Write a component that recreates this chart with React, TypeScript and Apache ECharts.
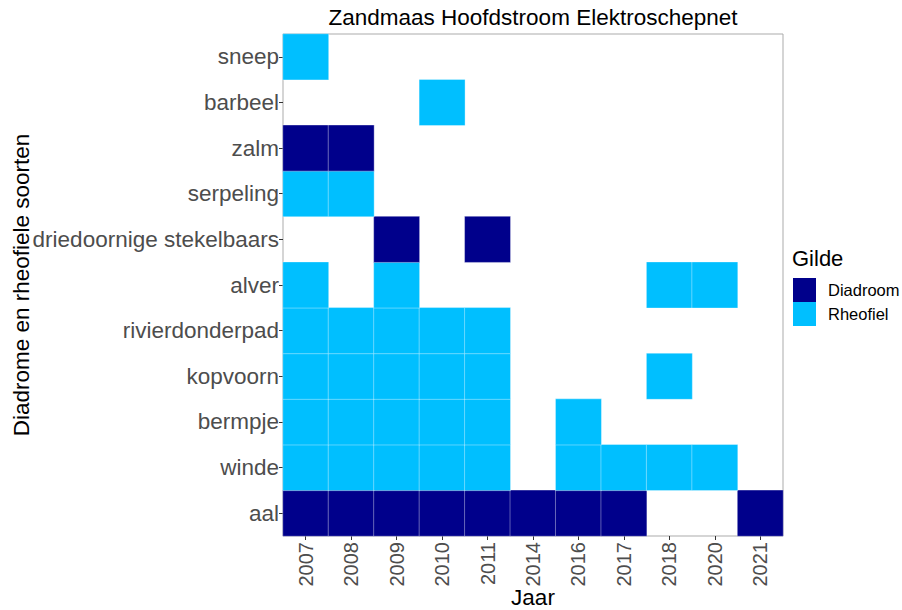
import React, { useEffect, useRef } from "react";
import * as echarts from "echarts";

const years = ["2007", "2008", "2009", "2010", "2011", "2014", "2016", "2017", "2018", "2020", "2021"];
// bottom to top
const species = [
  "aal",
  "winde",
  "bermpje",
  "kopvoorn",
  "rivierdonderpad",
  "alver",
  "driedoornige stekelbaars",
  "serpeling",
  "zalm",
  "barbeel",
  "sneep",
];
const guilds = ["Diadroom", "Rheofiel"];
const guildColors = ["#00008B", "#00BFFF"];

const speciesGuild: Record<string, string> = {
  aal: "Diadroom",
  winde: "Rheofiel",
  bermpje: "Rheofiel",
  kopvoorn: "Rheofiel",
  rivierdonderpad: "Rheofiel",
  alver: "Rheofiel",
  "driedoornige stekelbaars": "Diadroom",
  serpeling: "Rheofiel",
  zalm: "Diadroom",
  barbeel: "Rheofiel",
  sneep: "Rheofiel",
};

const presence: Record<string, string[]> = {
  aal: ["2007", "2008", "2009", "2010", "2011", "2014", "2016", "2017", "2021"],
  winde: ["2007", "2008", "2009", "2010", "2011", "2016", "2017", "2018", "2020"],
  bermpje: ["2007", "2008", "2009", "2010", "2011", "2016"],
  kopvoorn: ["2007", "2008", "2009", "2010", "2011", "2018"],
  rivierdonderpad: ["2007", "2008", "2009", "2010", "2011"],
  alver: ["2007", "2009", "2018", "2020"],
  "driedoornige stekelbaars": ["2009", "2011"],
  serpeling: ["2007", "2008"],
  zalm: ["2007", "2008"],
  barbeel: ["2010"],
  sneep: ["2007"],
};

const FONT = "'Liberation Sans', Arial, sans-serif";

export default function App() {
  const ref = useRef<HTMLDivElement>(null);
  useEffect(() => {
    if (!ref.current) return;
    document.body.style.margin = "0";
    document.documentElement.style.overflow = "hidden";
    document.body.style.overflow = "hidden";
    const chart = echarts.init(ref.current, undefined, { renderer: "svg" });
    const data: number[][] = [];
    species.forEach((sp, yi) => {
      presence[sp].forEach((yr) => {
        data.push([years.indexOf(yr), yi, guilds.indexOf(speciesGuild[sp])]);
      });
    });
    const gL = 283, gT = 34, gW = 500, gH = 502;
    chart.setOption({
      animation: false,
      backgroundColor: "#ffffff",
      textStyle: { fontFamily: FONT },
      title: {
        text: "Zandmaas Hoofdstroom Elektroschepnet",
        left: gL + gW / 2,
        textAlign: "center",
        top: 6,
        padding: 0,
        textStyle: { fontFamily: FONT, fontSize: 22.5, fontWeight: "normal", color: "#000000" },
      },
      grid: {
        left: gL,
        top: gT,
        width: gW,
        height: gH,
        show: true,
        borderColor: "#ABABAB",
        borderWidth: 1,
        backgroundColor: "#ffffff",
      },
      xAxis: {
        type: "category",
        data: years,
        axisLine: { show: false },
        axisTick: { show: true, length: 4, lineStyle: { color: "#333333" }, alignWithLabel: true },
        axisLabel: { rotate: 90, fontSize: 20, color: "#4D4D4D", margin: 6, fontFamily: FONT },
        splitLine: { show: false },
      },
      yAxis: {
        type: "category",
        data: species,
        axisLine: { show: false },
        axisTick: { show: true, length: 4, lineStyle: { color: "#333333" }, alignWithLabel: true },
        axisLabel: { fontSize: 22.5, color: "#4D4D4D", margin: 4, fontFamily: FONT },
        splitLine: { show: false },
      },
      visualMap: {
        show: false,
        type: "piecewise",
        dimension: 2,
        pieces: [
          { value: 0, color: guildColors[0] },
          { value: 1, color: guildColors[1] },
        ],
      },
      series: [
        {
          type: "heatmap",
          data,
          itemStyle: { borderColor: "rgba(255,255,255,0.35)", borderWidth: 1 },
          emphasis: { disabled: true },
        },
      ],
      graphic: [
        {
          type: "text",
          x: 21,
          y: gT + gH / 2,
          rotation: Math.PI / 2,
          style: {
            text: "Diadrome en rheofiele soorten",
            fontFamily: FONT,
            fontSize: 22.5,
            fill: "#000000",
            align: "center",
            verticalAlign: "middle",
          },
        },
        {
          type: "text",
          x: gL + gW / 2,
          y: 597,
          style: {
            text: "Jaar",
            fontFamily: FONT,
            fontSize: 22.5,
            fill: "#000000",
            align: "center",
            verticalAlign: "middle",
          },
        },
        {
          type: "text",
          x: 792,
          y: 258,
          style: {
            text: "Gilde",
            fontFamily: FONT,
            fontSize: 22,
            fill: "#000000",
            align: "left",
            verticalAlign: "middle",
          },
        },
        ...guilds.flatMap((g, i) => [
          {
            type: "rect",
            shape: { x: 793, y: 278 + i * 24, width: 23, height: 24 },
            style: { fill: guildColors[i] },
          },
          {
            type: "text",
            x: 828,
            y: 290 + i * 24,
            style: {
              text: g,
              fontFamily: FONT,
              fontSize: 16.5,
              fill: "#000000",
              align: "left",
              verticalAlign: "middle",
            },
          },
        ]),
      ],
    });
    return () => chart.dispose();
  }, []);
  return (
    <div
      ref={ref}
      style={{ position: "absolute", left: 0, top: 0, width: 902, height: 610 }}
    />
  );
}
